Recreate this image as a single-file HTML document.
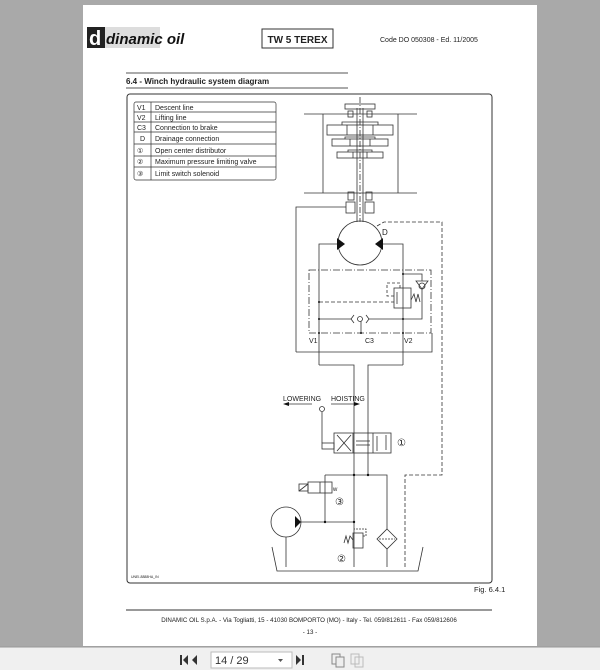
<!DOCTYPE html>
<html><head><meta charset="utf-8"><style>
html,body{margin:0;padding:0;width:600px;height:670px;overflow:hidden;background:#a9a9a9}
svg{display:block}
text{font-family:"Liberation Sans",sans-serif;fill:#222}
</style></head><body>
<svg width="600" height="670" viewBox="0 0 600 670" xmlns="http://www.w3.org/2000/svg">
<rect x="0" y="0" width="600" height="670" fill="#a9a9a9"/>
<rect x="83" y="5" width="454" height="641" fill="#fff"/>
<rect x="0" y="647" width="600" height="23" fill="#f0f0f0"/>
<line x1="0" y1="647" x2="600" y2="647" stroke="#999"/>
<!-- toolbar -->
<g fill="#333">
<rect x="180" y="655" width="2" height="10"/><polygon points="188,655 188,665 183,660"/>
<polygon points="197,655 197,665 192,660"/>
<polygon points="286,655 286,665 291,660"/>
<polygon points="296,655 296,665 301,660"/><rect x="302" y="655" width="2" height="10"/>
</g>
<rect x="211" y="652" width="81" height="16" fill="#fff" stroke="#bbb"/>
<text x="215" y="664" font-size="11" style="fill:#333">14 / 29</text>
<polygon points="278,659 283,659 280.5,662" fill="#555"/>
<rect x="332" y="654" width="8" height="10" fill="none" stroke="#888"/><rect x="336" y="657" width="8" height="10" fill="#eee" stroke="#888"/>
<rect x="351" y="654" width="8" height="10" fill="none" stroke="#bbb"/><rect x="355" y="657" width="8" height="10" fill="none" stroke="#bbb"/>

<!-- header -->
<rect x="87" y="27" width="73" height="21" fill="#ddd"/>
<rect x="87" y="27" width="18" height="21" fill="#222"/>
<text x="89" y="45" font-size="20" font-weight="bold" style="fill:#fff">d</text>
<text x="106" y="44" font-size="15" font-weight="bold" font-style="italic" style="fill:#111">dinamic oil</text>
<rect x="262" y="29" width="71" height="19" fill="none" stroke="#333"/>
<text x="297.5" y="43" font-size="10" font-weight="bold" text-anchor="middle">TW 5 TEREX</text>
<text x="380" y="42" font-size="7">Code DO 050308 - Ed. 11/2005</text>
<line x1="126" y1="73" x2="348" y2="73" stroke="#555"/>
<text x="126" y="84" font-size="8" font-weight="bold">6.4 -  Winch hydraulic system diagram</text>
<line x1="126" y1="88" x2="348" y2="88" stroke="#555"/>

<!-- frame -->
<rect x="127" y="94" width="365" height="489" rx="3" fill="none" stroke="#333"/>
<text x="474" y="592" font-size="7.5">Fig. 6.4.1</text>
<line x1="126" y1="610" x2="492" y2="610" stroke="#333"/>
<text x="309" y="622" font-size="6.2" text-anchor="middle">DINAMIC OIL S.p.A. - Via Togliatti, 15 - 41030 BOMPORTO (MO) - Italy - Tel. 059/812611 - Fax 059/812606</text>
<text x="310" y="634" font-size="6.2" text-anchor="middle">- 13 -</text>
<text x="131" y="578" font-size="3.5">UNEI-8888HA_IN</text>

<!-- legend -->
<g stroke="#333" stroke-width="0.7" fill="none">
<rect x="134" y="102" width="142" height="78" rx="2"/>
<line x1="151" y1="102" x2="151" y2="180"/>
<line x1="134" y1="112" x2="276" y2="112"/><line x1="134" y1="122" x2="276" y2="122"/>
<line x1="134" y1="132" x2="276" y2="132"/><line x1="134" y1="144" x2="276" y2="144"/>
<line x1="134" y1="156" x2="276" y2="156"/><line x1="134" y1="167" x2="276" y2="167"/>
</g>
<g font-size="7">
<text x="137" y="110">V1</text><text x="155" y="110">Descent line</text>
<text x="137" y="120">V2</text><text x="155" y="120">Lifting line</text>
<text x="137" y="130">C3</text><text x="155" y="130">Connection to brake</text>
<text x="140" y="141">D</text><text x="155" y="141">Drainage connection</text>
<text x="137" y="153">①</text><text x="155" y="153">Open center distributor</text>
<text x="137" y="164">②</text><text x="155" y="164">Maximum pressure limiting valve</text>
<text x="137" y="176">③</text><text x="155" y="176">Limit switch solenoid</text>
</g>

<!-- winch top -->
<g stroke="#333" stroke-width="0.8" fill="none">
<line x1="360" y1="97" x2="360" y2="222" stroke-dasharray="6,2,1,2"/>
<line x1="304" y1="114" x2="417" y2="114"/><line x1="304" y1="193" x2="417" y2="193"/>
<line x1="323" y1="114" x2="323" y2="193"/><line x1="398" y1="114" x2="398" y2="193"/>
<line x1="357" y1="108" x2="357" y2="222"/><line x1="363" y1="108" x2="363" y2="222"/>
<rect x="345" y="104" width="30" height="5"/>
<rect x="348" y="111" width="5" height="6"/><rect x="367" y="111" width="5" height="6"/>
<path d="M342 125 L342 122 L378 122 L378 125"/>
<rect x="327" y="125" width="66" height="10"/>
<line x1="347" y1="125" x2="347" y2="135"/><line x1="373" y1="125" x2="373" y2="135"/>
<path d="M345 139 L345 137 L375 137 L375 139"/>
<rect x="332" y="139" width="56" height="7"/>
<line x1="350" y1="139" x2="350" y2="146"/><line x1="370" y1="139" x2="370" y2="146"/>
<path d="M348 152 L348 150 L372 150 L372 152"/>
<rect x="337" y="152" width="46" height="6"/>
<line x1="353" y1="152" x2="353" y2="158"/><line x1="367" y1="152" x2="367" y2="158"/>
<rect x="348" y="192" width="6" height="8"/><rect x="366" y="192" width="6" height="8"/>
<rect x="346" y="202" width="9" height="11"/><rect x="365" y="202" width="9" height="11"/>
<polyline points="296,352 296,207 346,207"/>
<polyline points="296,352 432,352 432,333"/>
<circle cx="360" cy="243" r="22"/>
<polyline points="319,365 319,244 337,244"/>
<polyline points="403,365 403,244 383,244"/>
<polyline points="377,226 384,222 442,222 442,475 405,475 405,567" stroke-dasharray="4,2"/>
<rect x="309" y="270" width="122" height="63" stroke-dasharray="7,2,1,2"/>
<polyline points="319,319 351,319"/><polyline points="369,319 403,319"/>
<path d="M354 315 L351 319 L354 323 M366 315 L369 319 L366 323"/>
<circle cx="360" cy="319" r="2.5"/>
<line x1="361" y1="321" x2="361" y2="333"/>
<polyline points="403,274 422,274 422,281"/>
<polyline points="422,289 422,319 403,319"/>
<path d="M416 281 L428 281 L422 289 Z"/>
<circle cx="422" cy="286" r="3"/>
<rect x="394" y="288" width="17" height="20"/>
<line x1="397" y1="292" x2="397" y2="304"/>
<polyline points="319,302 394,302" stroke-dasharray="4,2"/>
<polyline points="394,296 387,296 387,283 400,283 400,288" stroke-dasharray="3,2"/>
<polyline points="411,300 414,294 416,302 418,294 420,302"/>
<polyline points="319,365 354,365 354,567"/>
<polyline points="403,365 368,365 368,475"/>
</g>
<g fill="#111">
<polygon points="337,238 345,244 337,250"/>
<polygon points="383,238 375,244 383,250"/>
<circle cx="319" cy="302" r="1"/><circle cx="319" cy="319" r="1"/><circle cx="403" cy="274" r="1"/><circle cx="403" cy="319" r="1"/><circle cx="361" cy="333" r="1"/><circle cx="319" cy="333" r="1"/><circle cx="403" cy="333" r="1"/>
</g>
<text x="382" y="235" font-size="8">D</text>
<text x="309" y="343" font-size="7">V1</text>
<text x="365" y="343" font-size="7">C3</text>
<text x="404" y="343" font-size="7">V2</text>

<!-- lower -->
<text x="283" y="401" font-size="7">LOWERING</text>
<text x="331" y="401" font-size="7">HOISTING</text>
<g stroke="#333" stroke-width="0.8" fill="none">
<line x1="287" y1="404" x2="312" y2="404"/><line x1="331" y1="404" x2="356" y2="404"/>
<circle cx="322" cy="409" r="2.5"/>
<line x1="322" y1="412" x2="322" y2="443"/>
<rect x="322" y="443" width="12" height="6"/>
<rect x="334" y="433" width="57" height="20"/>
<line x1="353" y1="433" x2="353" y2="453"/><line x1="373" y1="433" x2="373" y2="453"/>
<line x1="337" y1="435" x2="351" y2="451"/><line x1="337" y1="451" x2="351" y2="435"/>
<line x1="356" y1="441" x2="370" y2="441"/><line x1="356" y1="445" x2="370" y2="445"/>
<line x1="377" y1="451" x2="377" y2="436"/><line x1="386" y1="435" x2="386" y2="450"/>
<polyline points="325,475 387,475 387,529"/>
<polyline points="325,475 325,522"/>
<path d="M387 529 L397 539 L387 549 L377 539 Z"/>
<line x1="379" y1="539" x2="395" y2="539" stroke-dasharray="2,1"/>
<line x1="387" y1="549" x2="387" y2="567"/>
<rect x="308" y="482" width="24" height="11"/><line x1="320" y1="482" x2="320" y2="493"/>
<rect x="299" y="484" width="9" height="7"/><line x1="299" y1="491" x2="308" y2="484"/>
<circle cx="286" cy="522" r="15"/>
<line x1="301" y1="522" x2="354" y2="522"/>
<line x1="286" y1="537" x2="286" y2="567"/>
<rect x="353" y="533" width="10" height="15"/>
<polyline points="363,536 366,536 366,529 354,529" stroke-dasharray="2,1"/>
<polyline points="353,540 350,536 348,543 346,536 344,543"/>
<polyline points="272,547 277,571 418,571 423,547"/>
</g>
<g fill="#111">
<polygon points="283,404 289,402 289,406"/><polygon points="360,404 354,402 354,406"/>
<polygon points="295,516 301,522 295,528"/>
<circle cx="368" cy="475" r="1.2"/><circle cx="325" cy="522" r="1.2"/><circle cx="354" cy="522" r="1.2"/><circle cx="354" cy="475" r="1.2"/>
</g>
<text x="333" y="491" font-size="6">w</text>
<text x="397" y="446" font-size="10">①</text>
<text x="335" y="505" font-size="10">③</text>
<text x="337" y="562" font-size="10">②</text>
</svg>
</body></html>
